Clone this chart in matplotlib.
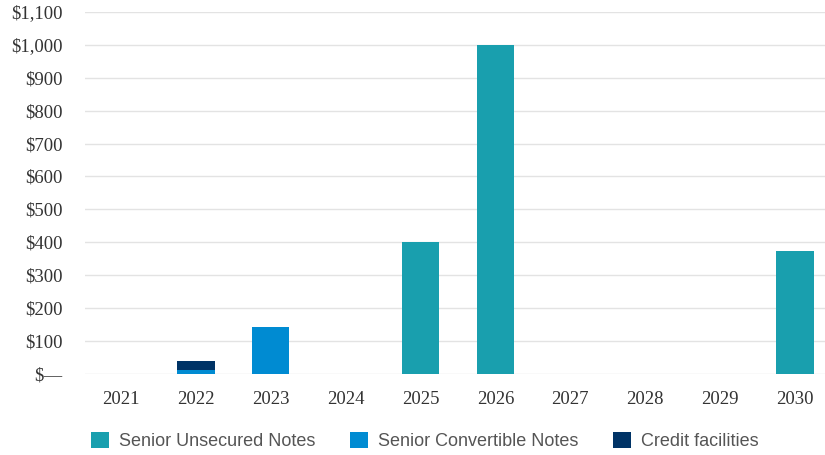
import matplotlib.pyplot as plt
from matplotlib.ticker import FuncFormatter

years = ["2021", "2022", "2023", "2024", "2025", "2026", "2027", "2028", "2029", "2030"]
unsecured = [0, 0, 0, 0, 400, 1000, 0, 0, 0, 375]
convertible = [0, 13, 143, 0, 0, 0, 0, 0, 0, 0]
credit = [0, 27, 0, 0, 0, 0, 0, 0, 0, 0]

fig = plt.figure(figsize=(8.25, 4.55), dpi=100)
ax = fig.add_axes([0.103, 0.178, 0.897, 0.796])

x = range(len(years))
w = 0.5
ax.bar(x, unsecured, w, color="#199fae", label="Senior Unsecured Notes", zorder=3)
bottom2 = unsecured
ax.bar(x, convertible, w, bottom=bottom2, color="#008bd2", label="Senior Convertible Notes", zorder=3)
bottom3 = [a + b for a, b in zip(unsecured, convertible)]
ax.bar(x, credit, w, bottom=bottom3, color="#003366", label="Credit facilities", zorder=3)

ax.set_ylim(0, 1100)
ax.set_xlim(-0.48, 9.4)
ax.set_yticks(range(0, 1101, 100))
ax.yaxis.set_major_formatter(FuncFormatter(lambda v, p: "$\u2014" if v == 0 else "${:,.0f}".format(v)))
ax.set_xticks(list(x))
ax.set_xticklabels(years)
ax.grid(axis="y", color="#e3e3e3", linewidth=1, zorder=0)
for s in ax.spines.values():
    s.set_visible(False)
ax.tick_params(length=0, pad=12, labelsize=13.5, labelcolor="#333333")
ax.tick_params(axis="y", pad=16)
for lab in ax.get_xticklabels() + ax.get_yticklabels():
    lab.set_fontfamily("Liberation Serif")

fig.legend(loc="center", bbox_to_anchor=(0.515, 0.03), ncol=3, frameon=False,
           prop={"family": "Liberation Sans", "size": 13}, labelcolor="#555555",
           handlelength=1.0, handleheight=1.0, columnspacing=1.9, handletextpad=0.55)

fig.savefig("out.png", dpi=100)
